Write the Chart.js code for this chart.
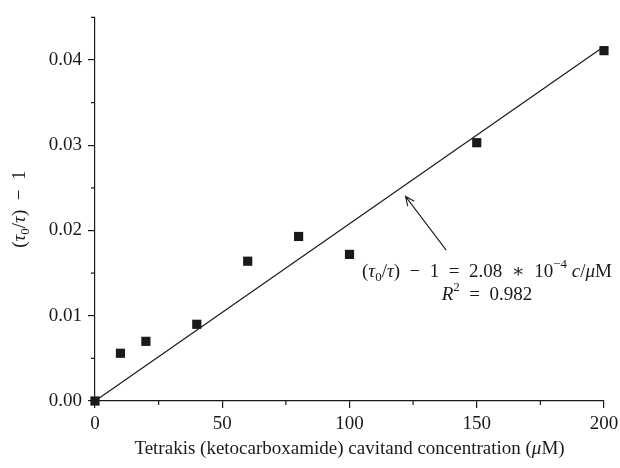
<!DOCTYPE html>
<html>
<head>
<meta charset="utf-8">
<script src="https://cdn.jsdelivr.net/npm/chart.js@4.4.0/dist/chart.umd.min.js"></script>
<style>
  html, body { margin: 0; background: #fff; }
  #wrap { width: 620px; height: 468px; }
</style>
</head>
<body>
<div id="wrap"><canvas id="myChart"></canvas></div>
<script>
// data
const concX = [0, 10, 20, 40, 60, 80, 100, 150, 200];
const ratioY = [0, 0.0056, 0.0070, 0.0090, 0.0164, 0.0193, 0.0172, 0.0303, 0.0411];
const fitX = [0, 200];
const fitY = [0, 0.0416];
const xTicks = [0, 50, 100, 150, 200];
const yTicks = [0, 0.01, 0.02, 0.03, 0.04];
const xMinor = [25, 75, 125, 175];
const yMinor = [0.005, 0.015, 0.025, 0.035, 0.045];

const FONT = '"Liberation Serif", "DejaVu Serif", serif';
const INK = '#1a1a1a';
const SP = '\u2002';

function segFont(s, size) {
  const sz = (s.sub || s.sup) ? Math.round(size * 0.68) : size;
  return (s.it ? 'italic ' : '') + sz + 'px ' + FONT;
}

function drawRich(ctx, segs, cx, cy, size) {
  let total = 0;
  segs.forEach(s => {
    ctx.font = segFont(s, size);
    s.w = ctx.measureText(s.t).width;
    total += s.w;
  });
  let x = cx - total / 2;
  ctx.textBaseline = 'middle';
  ctx.textAlign = 'left';
  segs.forEach(s => {
    ctx.font = segFont(s, size);
    const dy = s.sub ? size * 0.3 : s.sup ? -size * 0.38 : 0;
    ctx.fillText(s.t, x, cy + dy);
    x += s.w;
  });
}

const eqSegs = [
  {t: '('}, {t: 'τ', it: true}, {t: '0', sub: true}, {t: '/'}, {t: 'τ', it: true},
  {t: ')' + SP + '−' + SP + '1' + SP + '=' + SP + '2.08' + SP + '∗' + SP + '10'}, {t: '−4', sup: true},
  {t: ' '}, {t: 'c', it: true}, {t: '/'}, {t: 'μ', it: true}, {t: 'M'}
];
const r2Segs = [{t: 'R', it: true}, {t: '2', sup: true}, {t: SP + '=' + SP + '0.982'}];
const yTitleSegs = [
  {t: '('}, {t: 'τ', it: true}, {t: '0', sub: true}, {t: '/'}, {t: 'τ', it: true}, {t: ')' + SP + '−' + SP + '1'}
];
const xTitleSegs = [
  {t: 'Tetrakis (ketocarboxamide) cavitand concentration ('}, {t: 'μ', it: true}, {t: 'M)'}
];

const extras = {
  id: 'extras',
  afterDraw(chart) {
    const ctx = chart.ctx;
    const xs = chart.scales.x, ys = chart.scales.y;
    const area = chart.chartArea;
    ctx.save();
    ctx.strokeStyle = INK;
    ctx.fillStyle = INK;
    ctx.lineWidth = 1.2;

    // minor ticks
    ctx.beginPath();
    xMinor.forEach(v => {
      const px = xs.getPixelForValue(v);
      ctx.moveTo(px, area.bottom);
      ctx.lineTo(px, area.bottom + 4);
    });
    yMinor.forEach(v => {
      const py = ys.getPixelForValue(v);
      ctx.moveTo(area.left - 4, py);
      ctx.lineTo(area.left, py);
    });
    ctx.stroke();

    // arrow pointing at the fit line
    const tx = xs.getPixelForValue(122), ty = ys.getPixelForValue(0.0240);
    const fx = xs.getPixelForValue(138), fy = ys.getPixelForValue(0.0177);
    ctx.lineWidth = 1.1;
    ctx.beginPath();
    ctx.moveTo(fx, fy);
    ctx.lineTo(tx, ty);
    const ang = Math.atan2(ty - fy, tx - fx);
    const L = 10, spread = 0.42;
    ctx.moveTo(tx - L * Math.cos(ang - spread), ty - L * Math.sin(ang - spread));
    ctx.lineTo(tx, ty);
    ctx.lineTo(tx - L * Math.cos(ang + spread), ty - L * Math.sin(ang + spread));
    ctx.stroke();

    // equation
    drawRich(ctx, eqSegs, xs.getPixelForValue(154), ys.getPixelForValue(0.0151), 19);
    drawRich(ctx, r2Segs, xs.getPixelForValue(154), ys.getPixelForValue(0.0124), 19);

    // axis titles
    drawRich(ctx, xTitleSegs, (area.left + area.right) / 2, 449, 19);
    ctx.translate(20, (area.top + area.bottom) / 2);
    ctx.rotate(-Math.PI / 2);
    drawRich(ctx, yTitleSegs, 0, 0, 19);
    ctx.restore();
  }
};

const ctx = document.getElementById('myChart');

new Chart(ctx, {
  type: 'scatter',
  data: {
    datasets: [
      {
        type: 'line',
        data: fitX.map((x, i) => ({x: x, y: fitY[i]})),
        borderColor: INK,
        borderWidth: 1.2,
        pointRadius: 0,
        fill: false,
        clip: false
      },
      {
        data: concX.map((x, i) => ({x: x, y: ratioY[i]})),
        pointStyle: 'rect',
        pointRadius: 6.5,
        backgroundColor: INK,
        borderColor: INK,
        borderWidth: 0,
        clip: false
      }
    ]
  },
  options: {
    responsive: true,
    maintainAspectRatio: false,
    animation: false,
    layout: { padding: { top: 13, right: 0, left: 0, bottom: 0 } },
    plugins: { legend: { display: false }, tooltip: { enabled: false } },
    scales: {
      x: {
        type: 'linear',
        min: 0,
        max: 200,
        afterBuildTicks: s => { s.ticks = xTicks.map(v => ({value: v})); },
        afterFit: s => { s.height = 67; s.paddingRight = 16; },
        border: { color: INK, width: 1.2 },
        grid: { drawOnChartArea: false, tickLength: 7, color: INK, lineWidth: 1.2 },
        ticks: {
          color: INK,
          font: { family: FONT, size: 19 },
          padding: 5,
          maxRotation: 0,
          callback: v => String(v)
        }
      },
      y: {
        type: 'linear',
        min: 0,
        max: 0.045,
        afterBuildTicks: s => { s.ticks = yTicks.map(v => ({value: v})); },
        afterFit: s => { s.width = 95; },
        border: { color: INK, width: 1.2 },
        grid: { drawOnChartArea: false, tickLength: 7, color: INK, lineWidth: 1.2 },
        ticks: {
          color: INK,
          font: { family: FONT, size: 19 },
          padding: 6,
          callback: v => v.toFixed(2)
        }
      }
    }
  },
  plugins: [extras]
});
</script>
</body>
</html>
